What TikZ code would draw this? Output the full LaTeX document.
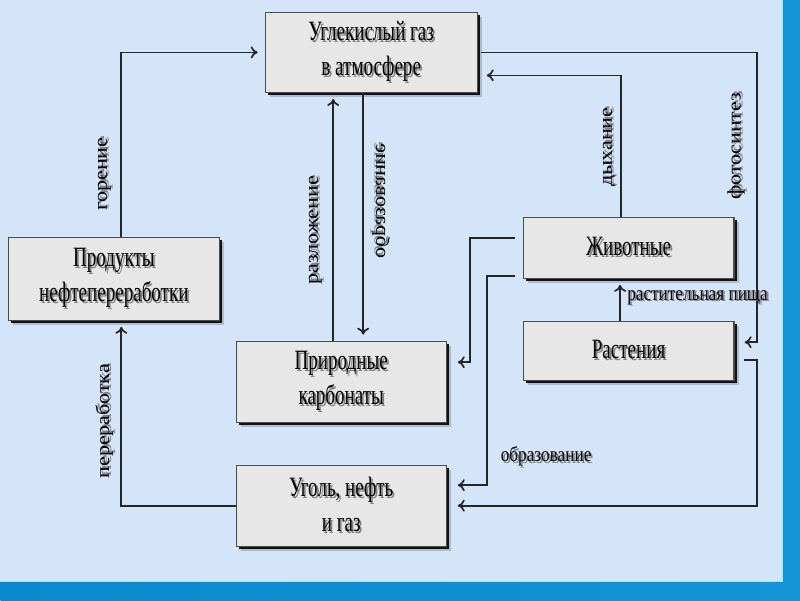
\documentclass[tikz,border=0pt]{standalone}
\usepackage{fontspec}
\setmainfont{Liberation Serif}
\newfontfamily\bxfont[FakeStretch=0.68]{Liberation Serif}
\newfontfamily\hlfont[FakeStretch=0.82]{Liberation Serif}
\newfontfamily\vlfont[FakeStretch=1.15]{Liberation Serif}
\usetikzlibrary{arrows.meta,shadows}
\definecolor{bgblue}{HTML}{D4E5FA}
\definecolor{stripe}{HTML}{1394D6}
\definecolor{stripemid}{HTML}{08C2E6}
\definecolor{stripeedge}{HTML}{0A8ACE}
\definecolor{boxfill}{HTML}{E8E7E7}
\newcommand\shd[1]{\makebox[0pt][l]{\hspace{1.8pt}\raisebox{-1.8pt}{\textcolor{black!50}{#1}}}#1}
\tikzset{
  box/.style={draw=black!70, line width=1.2pt, fill=boxfill, inner sep=0pt, align=center,
    font={\bxfont\fontsize{28}{35}\selectfont},
    general shadow={shadow xshift=5pt, shadow yshift=-5pt, fill=black, opacity=0.18},
    drop shadow={shadow xshift=3pt, shadow yshift=-3pt, fill=black, opacity=0.9}},
  conn/.style={draw=black!85, line width=1.7pt, -{To[length=7pt,width=12pt]}},
  hlbl/.style={inner sep=0pt, font={\hlfont\fontsize{21}{24}\selectfont}},
  vlbl/.style={inner sep=0pt, font={\vlfont\fontsize{19}{22}\selectfont}}
}
\begin{document}
\begin{tikzpicture}[x=1pt,y=-1pt]
\fill[bgblue] (0,0) rectangle (800,600);
\fill[stripe] (782,0) rectangle (800,600);
\shade[left color=stripeedge, middle color=stripemid, right color=stripe] (0,581) rectangle (800,600);
\draw[white!60!stripemid, line width=0.8pt] (0,581) -- (782,581) -- (782,0);
\useasboundingbox (0,0) rectangle (800,600);

\node[box, minimum width=212, minimum height=80] (co2) at (371,52) {\shd{Углекислый газ}\\\shd{в атмосфере}};
\node[box, minimum width=211, minimum height=83] (prod) at (113.5,278.5) {\shd{Продукты}\\\shd{нефтепереработки}};
\node[box, minimum width=210, minimum height=81] (prir) at (341,381.5) {\shd{Природные}\\\shd{карбонаты}};
\node[box, minimum width=210, minimum height=81] (ugol) at (341,505.5) {\shd{Уголь, нефть}\\\shd{и газ}};
\node[box, minimum width=211, minimum height=61] (zhiv) at (628.5,247.5) {\shd{Животные}};
\node[box, minimum width=211, minimum height=59] (rast) at (628.5,350.5) {\shd{Растения}};

\coordinate (rx) at (757,0);
\coordinate (lx1) at (470,0);
\coordinate (lx2) at (487,0);

% горение
\draw[conn, shorten >=7pt] ([xshift=7.5]prod.north) |- (co2.west);
% переработка
\draw[conn, shorten >=6pt] (ugol.west) -| ([xshift=7.5]prod.south);
% разложение
\draw[conn, shorten >=6pt] ([xshift=-8]prir.north) -- ([xshift=-8]prir.north |- co2.south);
% образование
\draw[conn, shorten >=6pt] ([xshift=-8]co2.south) -- ([xshift=-8]co2.south |- prir.north);
% дыхание
\draw[conn, shorten >=9pt] ([xshift=-7.5]zhiv.north) |- ([yshift=-23]co2.east);
% фотосинтез
\draw[conn, shorten <=3pt, shorten >=10pt] (co2.east) -- (co2.east -| rx) |- ([yshift=8.5]rast.east);
% растения -> уголь
\draw[conn, shorten <=9pt, shorten >=11pt] ([yshift=-9.5]rast.east) -- ([yshift=-9.5]rast.east -| rx) |- (ugol.east);
% растительная пища
\draw[conn, shorten >=6pt] ([xshift=-8.5]rast.north) -- ([xshift=-8.5]zhiv.south);
% животные -> карбонаты
\draw[conn, shorten <=8pt, shorten >=11pt] ([yshift=9.5]zhiv.west) -- ([yshift=9.5]zhiv.west -| lx1) |- ([yshift=19.5]prir.east);
% животные -> уголь
\draw[conn, shorten <=8pt, shorten >=11pt] ([yshift=-28.5]zhiv.west) -- ([yshift=-28.5]zhiv.west -| lx2) |- ([yshift=20.5]ugol.east);

\node[vlbl, rotate=90] (l1) at (105,174) {\shd{горение}};
\node[vlbl, rotate=90] (l2) at (105,421) {\shd{переработка}};
\node[vlbl, rotate=90] (l3) at (316,230) {\shd{разложение}};
\node[vlbl, rotate=90] (l4) at (380,201) {\scalebox{1}[-1]{\shd{образование}}};
\node[vlbl, rotate=90] (l5) at (610,147) {\shd{дыхание}};
\node[vlbl, rotate=90] (l6) at (737,146) {\shd{фотосинтез}};
\node[hlbl] (l7) at (546,457) {\shd{образование}};
\node[hlbl, anchor=west] (l8) at (627,298) {\shd{растительная пища}};
\end{tikzpicture}
\end{document}
